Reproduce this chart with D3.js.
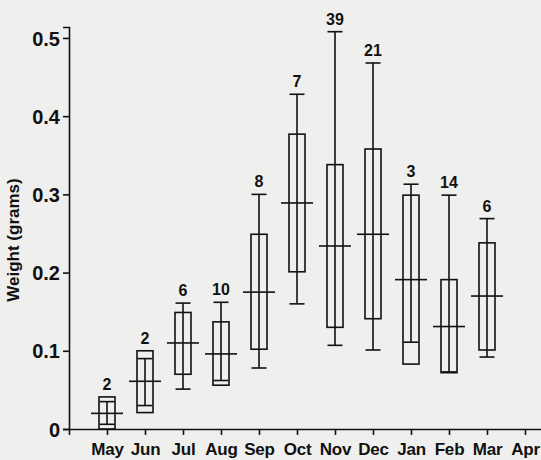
<!DOCTYPE html>
<html>
<head>
<meta charset="utf-8">
<script src="https://cdn.jsdelivr.net/npm/d3@7"></script>
<style>
  html, body { margin: 0; padding: 0; background: #efefed; }
  svg { display: block; }
  text { font-family: "Liberation Sans", Arial, Helvetica, sans-serif; font-weight: bold; fill: #111; }
</style>
</head>
<body>
<script>
// ---- data ----
const months   = ["May","Jun","Jul","Aug","Sep","Oct","Nov","Dec","Jan","Feb","Mar","Apr"];
const sampleN  = [2, 2, 6, 10, 8, 7, 39, 21, 3, 14, 6, null];
const meanVal  = [0.020, 0.061, 0.110, 0.096, 0.175, 0.289, 0.234, 0.249, 0.191, 0.131, 0.170, null];
const boxLow   = [0.000, 0.021, 0.070, 0.056, 0.102, 0.201, 0.130, 0.141, 0.083, 0.072, 0.101, null];
const boxHigh  = [0.041, 0.100, 0.149, 0.137, 0.249, 0.377, 0.338, 0.358, 0.299, 0.191, 0.238, null];
const rangeMin = [0.006, 0.030, 0.051, 0.062, 0.078, 0.160, 0.107, 0.101, 0.111, 0.073, 0.092, null];
const rangeMax = [0.035, 0.090, 0.161, 0.162, 0.300, 0.428, 0.508, 0.468, 0.313, 0.299, 0.269, null];
const yTicks   = [0, 0.1, 0.2, 0.3, 0.4, 0.5];
const yTitle   = "Weight (grams)";

const W = 541, H = 460;
const svg = d3.select("body").append("svg").attr("width", W).attr("height", H);

const x = d3.scalePoint().domain(months).range([69, 563]).padding(1);
const y = d3.scaleLinear().domain([0, 0.514]).range([429, 27]);

const ink = "#111";

// axes
const yAxis = svg.append("g").attr("transform", "translate(69,0)")
  .call(d3.axisLeft(y).tickValues(yTicks).tickSizeOuter(0).tickSize(6).tickPadding(3)
        .tickFormat(d => d === 0 ? "0" : d.toFixed(1)));
yAxis.selectAll("text").style("font-size", "20px").attr("dy", "0.36em");

const xAxis = svg.append("g").attr("transform", "translate(0,429)")
  .call(d3.axisBottom(x).tickSizeOuter(0).tickSize(6).tickPadding(8));
xAxis.selectAll("text").style("font-size", "17px").style("letter-spacing", "-0.2px");

svg.selectAll(".domain, .tick line").attr("stroke", ink).attr("stroke-width", 1.6);

// y title
svg.append("text")
  .attr("transform", "translate(19,240) rotate(-90)")
  .attr("text-anchor", "middle")
  .style("font-size", "17px")
  .text(yTitle);

// boxes
const data = months.map((m, i) => ({
  m, n: sampleN[i], mean: meanVal[i], lo: boxLow[i], hi: boxHigh[i],
  mn: rangeMin[i], mx: rangeMax[i]
})).filter(d => d.mean !== null);

const boxW = 16, capW = 15, meanW = 32;
const g = svg.append("g").attr("stroke", ink).attr("stroke-width", 1.6).attr("fill", "none");

const item = g.selectAll("g.item").data(data).join("g").attr("class", "item");

item.append("rect")
  .attr("x", d => x(d.m) - boxW / 2)
  .attr("y", d => y(d.hi))
  .attr("width", boxW)
  .attr("height", d => y(d.lo) - y(d.hi));

item.append("line")
  .attr("x1", d => x(d.m)).attr("x2", d => x(d.m))
  .attr("y1", d => y(d.mn)).attr("y2", d => y(d.mx));

item.append("line")
  .attr("x1", d => x(d.m) - capW / 2).attr("x2", d => x(d.m) + capW / 2)
  .attr("y1", d => y(d.mx)).attr("y2", d => y(d.mx));

item.append("line")
  .attr("x1", d => x(d.m) - capW / 2).attr("x2", d => x(d.m) + capW / 2)
  .attr("y1", d => y(d.mn)).attr("y2", d => y(d.mn));

item.append("line")
  .attr("x1", d => x(d.m) - meanW / 2).attr("x2", d => x(d.m) + meanW / 2)
  .attr("y1", d => y(d.mean)).attr("y2", d => y(d.mean));

// sample sizes
svg.selectAll("text.n").data(data).join("text")
  .attr("class", "n")
  .attr("x", d => x(d.m))
  .attr("y", d => y(Math.max(d.hi, d.mx)) - 7)
  .attr("text-anchor", "middle")
  .style("font-size", "16px")
  .text(d => d.n);
</script>
</body>
</html>
